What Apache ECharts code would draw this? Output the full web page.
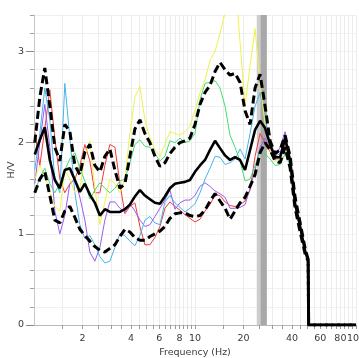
<!DOCTYPE html>
<html><head><meta charset="utf-8">
<script src="https://cdn.jsdelivr.net/npm/echarts@6/dist/echarts.min.js"></script>
<style>html,body{margin:0;padding:0;background:#fff}#c{width:359px;height:358px}</style>
</head><body><div id="c"></div>
<script>
// Frequencies (Hz) of the H/V curves
const freqHz = [1.011,1.087,1.167,1.254,1.347,1.447,1.554,1.670,1.794,1.927,
  2.070,2.223,2.388,2.566,2.756,2.960,3.180,3.416,3.670,3.942,
  4.234,4.549,4.886,5.249,5.638,6.057,6.506,6.989,7.507,8.064,
  8.663,9.305,10.00,10.74,11.54,12.40,13.32,14.30,15.37,16.51,
  17.73,19.05,20.46,21.98,23.61,25.37,27.25,29.27,31.44,33.78,
  36.28,38.97,41.87,44.98,48.31,50.43,50.8,100];

const hvMean = [1.87,2.03,2.17,1.81,1.59,1.50,1.70,1.72,1.59,1.46,
  1.55,1.43,1.34,1.20,1.27,1.24,1.24,1.24,1.27,1.32,
  1.41,1.48,1.42,1.38,1.34,1.33,1.41,1.50,1.55,1.56,
  1.57,1.59,1.68,1.75,1.81,1.92,2.02,1.94,1.86,1.81,
  1.84,1.81,1.70,1.92,2.14,2.24,2.16,1.98,1.84,1.84,
  2.05,1.80,1.33,1.08,0.81,0.71,0,0];

const hvUpper = [2.00,2.50,2.82,2.40,1.95,1.80,2.20,2.12,1.75,1.65,
  1.90,1.98,1.75,1.68,1.85,1.93,1.70,1.50,1.55,1.85,
  2.15,2.25,2.10,2.00,1.85,1.74,1.78,1.88,1.95,2.00,
  2.02,2.05,2.20,2.42,2.55,2.63,2.78,2.88,2.80,2.74,
  2.76,2.66,2.35,2.20,2.60,2.75,2.40,2.02,1.88,1.92,
  2.08,1.85,1.40,1.12,0.84,0.72,0,0];

const hvLower = [1.45,1.60,1.68,1.42,1.15,1.12,1.25,1.30,1.18,1.05,
  0.98,0.92,0.86,0.82,0.80,0.84,0.88,0.97,1.05,1.02,
  0.96,0.93,0.93,0.97,1.00,1.03,1.08,1.17,1.22,1.23,
  1.23,1.20,1.19,1.20,1.26,1.36,1.44,1.36,1.28,1.16,
  1.25,1.34,1.40,1.52,1.65,1.89,2.00,1.92,1.80,1.78,
  1.95,1.72,1.28,1.02,0.78,0.70,0,0];

const hvRed = [2.12,1.75,2.15,2.58,2.05,1.60,1.45,1.55,1.60,1.75,
  1.98,1.80,1.45,1.45,1.75,1.98,1.95,1.55,1.22,1.30,
  1.34,1.08,0.88,0.88,0.96,1.08,1.28,1.35,1.30,1.26,
  1.21,1.17,1.13,1.16,1.25,1.32,1.43,1.42,1.35,1.31,
  1.30,1.32,1.36,1.48,1.85,2.10,2.00,1.90,1.82,1.82,
  2.00,1.78,1.30,1.06,0.80,0.71,0,0];

const hvPurple = [1.55,2.00,2.42,1.95,1.25,1.00,1.20,1.55,1.60,1.40,
  1.15,0.80,0.70,0.85,1.15,1.35,1.35,1.28,1.24,1.33,
  1.25,1.15,1.08,1.10,1.19,1.28,1.37,1.48,1.27,1.34,
  1.37,1.37,1.42,1.52,1.56,1.52,1.47,1.44,1.40,1.28,
  1.28,1.29,1.32,1.50,1.70,1.95,2.05,1.95,1.85,1.95,
  2.12,1.82,1.32,1.06,0.80,0.71,0,0];

const hvCyan = [1.70,2.10,2.60,2.25,1.60,1.45,2.65,2.05,1.45,1.10,
  0.95,0.98,0.88,0.75,0.68,0.70,0.85,1.00,0.98,0.92,
  0.87,0.98,1.15,1.19,1.12,1.10,1.35,1.42,1.34,1.29,
  1.24,1.28,1.33,1.45,1.60,1.72,1.85,1.84,1.76,1.78,
  1.82,1.93,1.82,2.10,2.40,2.55,2.28,1.98,1.85,1.88,
  2.05,1.80,1.30,1.05,0.80,0.71,0,0];

const hvYellow = [1.60,1.75,1.65,1.45,1.30,1.25,1.70,1.60,1.45,1.50,
  1.85,2.02,1.50,1.10,1.35,1.60,1.55,1.45,1.60,2.10,
  2.50,2.62,2.25,2.05,1.92,1.85,1.98,2.12,2.10,2.08,
  2.12,2.18,2.35,2.55,2.69,2.90,3.00,3.20,3.42,3.90,
  3.80,3.10,2.40,2.85,3.25,2.65,2.20,1.92,1.80,1.82,
  2.05,1.80,1.30,1.05,0.80,0.71,0,0];

const hvGreen = [1.45,1.62,1.72,1.55,1.45,1.55,1.70,1.82,1.89,1.72,
  1.58,1.38,1.48,1.56,1.50,1.45,1.50,1.58,1.60,1.78,
  1.98,2.03,1.96,1.95,1.88,1.80,1.85,2.02,2.00,2.05,
  2.00,2.02,2.10,2.47,2.65,2.66,2.68,2.60,2.40,2.08,
  1.95,1.80,1.58,1.60,1.75,1.90,1.88,1.82,1.75,1.76,
  1.88,1.75,1.30,1.05,0.80,0.71,0,0];

// Peak-frequency band (Hz)
const bandHz = [24.19, 27.92];
const bandCoreHz = [25.6, 27.92];

// Axis ticks / labels
const xTickValues = [1.5,2,2.5,3,3.5,4,4.5,5,5.5,6,6.5,7,7.5,8,8.5,9,9.5,10,
  15,20,25,30,35,40,45,50,55,60,65,70,75,80,85,90,95,100];
const xLabelValues = [2,4,6,8,10,20,40,60,80,100];
const yMajorValues = [0,1,2,3];

const FONT = 'DejaVu Sans';
const TXT = '#3a3a3a';

function pairs(vals){ return freqHz.map((f,i)=>[f, vals[i]]); }

const chart = echarts.init(document.getElementById('c'), null, {renderer:'canvas'});

function lineSeries(name, vals, color, width, dash, z){
  return {
    name, type:'line', data: pairs(vals), symbol:'none', smooth:false,
    clip:true, z,
    lineStyle:{color, width, type: dash || 'solid'},
    emphasis:{disabled:true}, silent:true
  };
}

const series = [
  Object.assign(lineSeries('red', hvRed, '#ef3b3b', 1, null, 2), {
    markArea:{ silent:true, data:[
      [{xAxis: bandHz[0], itemStyle:{color:'#cdcdcd'}}, {xAxis: bandHz[1]}],
      [{xAxis: bandCoreHz[0], itemStyle:{color:'#a8a8a8'}}, {xAxis: bandCoreHz[1]}]
    ]}
  }),
  lineSeries('purple', hvPurple, '#9a5cf0', 1, null, 2),
  lineSeries('cyan', hvCyan, '#46b4ee', 1, null, 2),
  lineSeries('yellow', hvYellow, '#eef24a', 1, null, 2),
  lineSeries('green', hvGreen, '#44dc72', 1, null, 2),
  lineSeries('upper', hvUpper, '#000000', 3, [8,4], 3),
  lineSeries('lower', hvLower, '#000000', 3, [8,4], 3),
  lineSeries('mean', hvMean, '#000000', 2.6, null, 4)
];

chart.setOption({
  animation:false,
  backgroundColor:'#ffffff',
  grid:{left:34, right:3, top:15, bottom:33, containLabel:false, outerBoundsMode:'none'},
  xAxis:{
    type:'log', logBase:10, min:1, max:100,
    name:'Frequency (Hz)', nameLocation:'middle', nameGap:23, nameMoveOverlap:false,
    nameTextStyle:{color:TXT, fontFamily:FONT, fontSize:9.5},
    axisLine:{show:true, lineStyle:{color:'#b8b8b8', width:1}},
    axisTick:{show:true, customValues:xTickValues, length:4, lineStyle:{color:'#9a9a9a'}},
    axisLabel:{customValues:xLabelValues, color:TXT, fontFamily:FONT, fontSize:9.5, margin:9,
      showMaxLabel:true, showMinLabel:true, hideOverlap:false,
      formatter: v => String(Math.round(v))},
    splitLine:{show:true, lineStyle:{color:'#ececec', width:1}},
    minorTick:{show:false}, minorSplitLine:{show:false}
  },
  yAxis:[{
    type:'value', min:0, max:3.4, interval:0.2,
    name:'H/V', nameLocation:'middle', nameGap:17, nameMoveOverlap:false,
    nameTextStyle:{color:TXT, fontFamily:FONT, fontSize:9.5},
    axisLine:{show:true, lineStyle:{color:'#c8c8c8'}},
    axisTick:{show:true, length:4, lineStyle:{color:'#a0a0a0'}},
    axisLabel:{color:TXT, fontFamily:FONT, fontSize:9.5, margin:10,
      formatter: v => (Math.abs(v-Math.round(v))<1e-6 ? String(Math.round(v)) : '')},
    splitLine:{show:true, lineStyle:{color:'#f0f0f0', width:1}}
  },{
    type:'value', min:0, max:3.4, position:'left',
    axisLine:{show:false},
    axisTick:{show:true, customValues:yMajorValues, length:8, lineStyle:{color:'#8a8a8a'}},
    axisLabel:{show:false},
    splitLine:{show:false}
  }],
  series
});
</script></body></html>
